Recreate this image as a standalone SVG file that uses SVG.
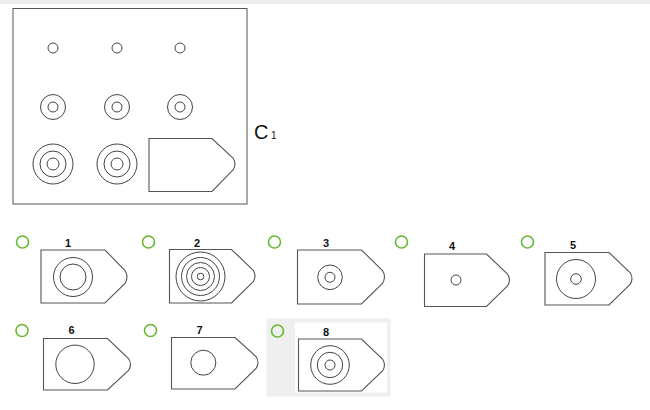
<svg xmlns="http://www.w3.org/2000/svg" width="650" height="410" viewBox="0 0 650 410">
<style>
.ln{fill:none;stroke:#444;stroke-width:1}
.sh{fill:#fff;stroke:#555;stroke-width:1.1}
.rd{fill:none;stroke:#66b82e;stroke-width:1.6}
.lb{font-family:"Liberation Sans",Arial,sans-serif;font-weight:bold;font-size:11px;fill:#111;text-anchor:middle}
.cc{font-family:"Liberation Sans",Arial,sans-serif;font-size:20px;fill:#111}
.cs{font-family:"Liberation Sans",Arial,sans-serif;font-size:10px;fill:#111}
</style>
<rect x="0" y="0" width="650" height="4" fill="#eeeeee"/>
<g id="matrix">
<rect x="13" y="8.5" width="234" height="195.5" fill="#fff" stroke="#555" stroke-width="1"/>
<circle class="ln" cx="53" cy="48" r="5"/>
<circle class="ln" cx="117" cy="48" r="5"/>
<circle class="ln" cx="180" cy="48" r="5"/>
<circle class="ln" cx="53" cy="107" r="12.5"/><circle class="ln" cx="53" cy="107" r="5"/>
<circle class="ln" cx="117" cy="107" r="12.5"/><circle class="ln" cx="117" cy="107" r="5"/>
<circle class="ln" cx="180" cy="107" r="12.5"/><circle class="ln" cx="180" cy="107" r="5"/>
<circle class="ln" cx="53" cy="164" r="20"/><circle class="ln" cx="53" cy="164" r="13"/><circle class="ln" cx="53" cy="164" r="6"/>
<circle class="ln" cx="117" cy="164" r="20"/><circle class="ln" cx="117" cy="164" r="13"/><circle class="ln" cx="117" cy="164" r="6"/>
<path class="sh" d="M149,138.5 H212 L233,158 Q237,164 233,170 L212,191.5 H149 Z"/>
</g>
<g id="title">
<text class="cc" x="254" y="139">C</text>
<text class="cs" x="271" y="138.5">1</text>
</g>
<g id="opt1">
<circle class="rd" cx="22.5" cy="242" r="6"/>
<text class="lb" x="68" y="247">1</text>
<path class="sh" d="M41,250 H105 L125,270.5 Q129,277 125,283.5 L105,303 H41 Z"/>
<circle class="ln" cx="73" cy="277" r="19.5"/><circle class="ln" cx="73" cy="277" r="13"/>
</g>
<g id="opt2">
<circle class="rd" cx="148.5" cy="242" r="6"/>
<text class="lb" x="197" y="247">2</text>
<path class="sh" d="M169.5,249.5 H231.5 L253,270 Q257,276 253,282 L231.5,303 H169.5 Z"/>
<circle class="ln" cx="200.5" cy="276.5" r="24.5"/><circle class="ln" cx="200.5" cy="276.5" r="19"/><circle class="ln" cx="200.5" cy="276.5" r="14"/><circle class="ln" cx="200.5" cy="276.5" r="9"/><circle class="ln" cx="200.5" cy="276.5" r="3.3"/>
</g>
<g id="opt3">
<circle class="rd" cx="274.5" cy="242" r="6"/>
<text class="lb" x="326" y="247">3</text>
<path class="sh" d="M297.5,250 H361.5 L382.5,270.5 Q386.5,277 382.5,283.5 L361.5,304 H297.5 Z"/>
<circle class="ln" cx="330" cy="277.3" r="12.3"/><circle class="ln" cx="330" cy="277.3" r="5"/>
</g>
<g id="opt4">
<circle class="rd" cx="401.5" cy="242" r="6"/>
<text class="lb" x="452" y="250">4</text>
<path class="sh" d="M424.5,254 H486.5 L507.5,274 Q511.5,280 507.5,286 L486.5,306.5 H424.5 Z"/>
<circle class="ln" cx="456" cy="280" r="5"/>
</g>
<g id="opt5">
<circle class="rd" cx="527.5" cy="242" r="6"/>
<text class="lb" x="573" y="249">5</text>
<path class="sh" d="M545,252.5 H609 L630,272.5 Q634,278.5 630,284.5 L609,305 H545 Z"/>
<circle class="ln" cx="576" cy="279" r="19.5"/><circle class="ln" cx="576" cy="279" r="5.3"/>
</g>
<g id="opt6">
<circle class="rd" cx="22" cy="330.5" r="6"/>
<text class="lb" x="71.5" y="334">6</text>
<path class="sh" d="M43.5,338.5 H107.5 L128.5,358.5 Q132.5,364.5 128.5,370.5 L107.5,390 H43.5 Z"/>
<circle class="ln" cx="75" cy="364.3" r="19.2"/>
</g>
<g id="opt7">
<circle class="rd" cx="150.5" cy="330.5" r="6"/>
<text class="lb" x="199.5" y="333.5">7</text>
<path class="sh" d="M171.5,337.5 H235 L256,356.5 Q260,362.5 256,368.5 L235,389 H171.5 Z"/>
<circle class="ln" cx="203.3" cy="362.7" r="12.5"/>
</g>
<g id="opt8">
<rect x="266.5" y="318.5" width="124" height="78" fill="#efefef"/>
<rect x="295" y="322.5" width="92" height="70" fill="#fff"/>
<circle class="rd" cx="277.5" cy="331" r="6"/>
<text class="lb" x="326" y="336">8</text>
<path class="sh" d="M298.5,339 H361.5 L382.5,359 Q386.5,365 382.5,371 L361.5,391 H298.5 Z"/>
<circle class="ln" cx="330" cy="365" r="19.3"/><circle class="ln" cx="330" cy="365" r="12.7"/><circle class="ln" cx="330" cy="365" r="5"/>
</g>
</svg>
